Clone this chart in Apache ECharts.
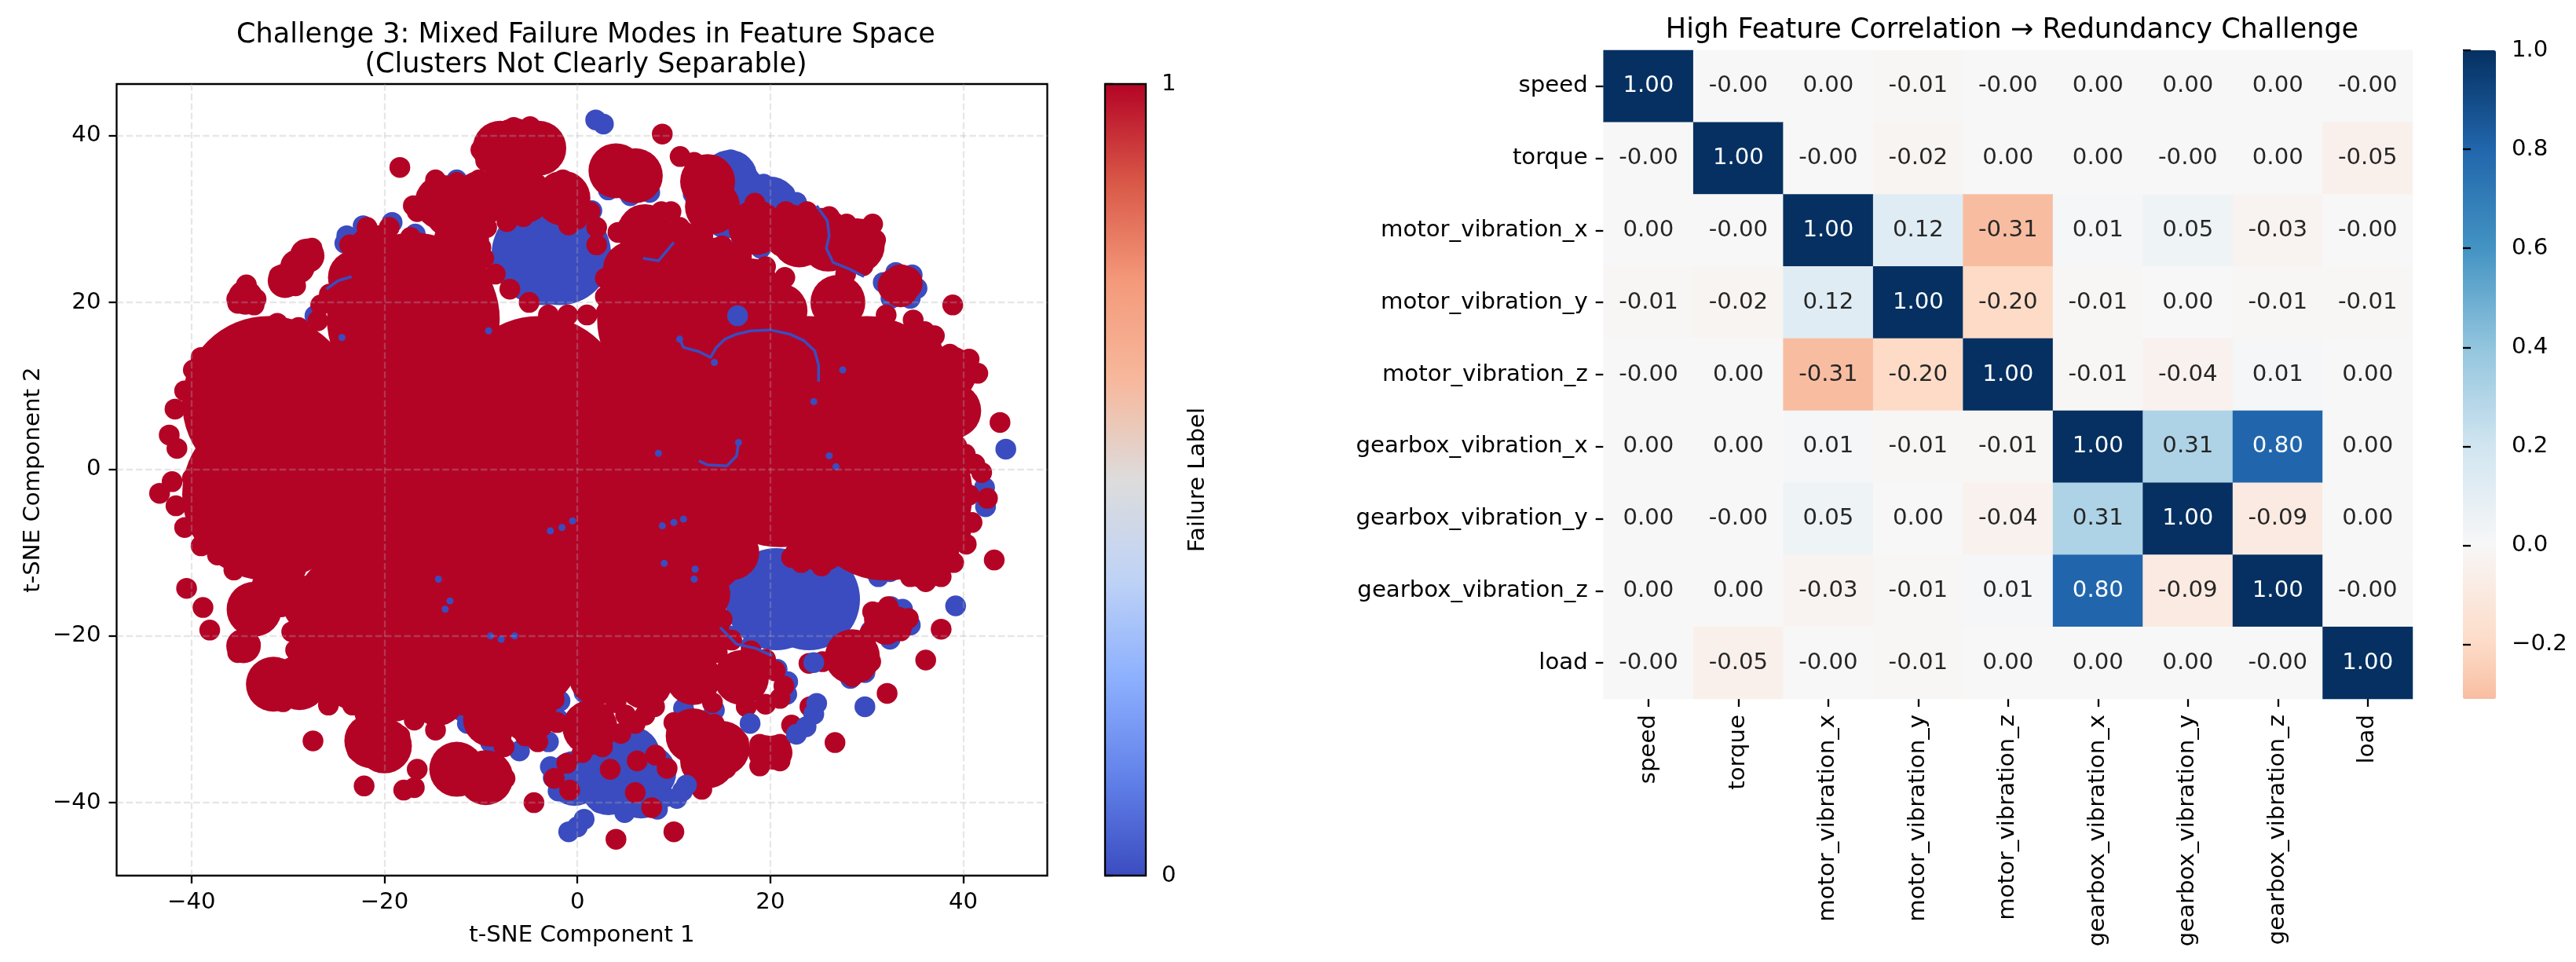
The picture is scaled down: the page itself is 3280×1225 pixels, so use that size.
<!DOCTYPE html>
<html><head><meta charset="utf-8">
<style>html,body{margin:0;padding:0;background:#fff}#c{width:3280px;height:1225px}</style>
<script src="https://cdn.jsdelivr.net/npm/echarts@6/dist/echarts.min.js"></script>
</head><body><div id="c"></div>
<script>
// t-SNE points, by failure label
const blueBroad = [[-3.6,25.8],[-1.8,25.8],[20.6,-15.6],[24,-15.6]];
const blueMid = [[2.7,-34.9],[5.7,-34.2],[-0.3,-37.1],[3.2,-38.2],[6.6,-38.6],[7.4,-36.4],[3,-36],[15.8,35],[16.5,33.5],[20,31.8],[21.8,29.8],[15.5,31]];
const bluePoints = [[1.9,41.9],[2.7,41.4],[3.2,33.5],[2.7,34.5],[3.5,36.8],[5.5,32.8],[7.5,33.2],
 [15.9,37.1],[16.5,36],[17.2,34.9],[19.3,34.2],[21.5,33],[22.7,32],[12,33],[13,31],[15,29.3],[17,27.7],[19,26.5],[23,31],[21.5,29],
 [-24.1,27.1],[-23.9,28],[-22.2,29.2],[-19.2,29.6],[-16.8,28.2],[-15.3,32.2],[-12.5,34.7],[-5,33.9],[-27.2,18.4],[-0.5,33],[1.5,31],
 [-12.3,-26],[-12,-29],[-11.4,-30.5],[-9,-32.8],[-6,-33.8],[-3,-32.7],[-2,-30],[-1.8,-27.8],[0.7,-26.8],[2,-27],
 [8.3,-40.8],[7.4,-40.5],[4.9,-41.2],[2.3,-40],[9.1,-39.3],[-2.8,-35.7],[-2,-38.6],[-2.5,-37],
 [14.2,-28.9],[21.8,-25.5],[21.7,-27],[20.7,-24],[18,-21.2],[15.8,-20],[11,-28.7],
 [33.7,-16.8],[34.5,-18.7],[32.4,-20.4],[30.4,-19.4],[32.5,-16.5],
 [28.3,-25.1],[29.8,-24.4],[27.1,-23.6],[23.2,-8],[24.5,-7],[31.2,-12.9],[32.4,-12.3],[42.2,-2.2],[42.3,-4.5],
 [31.7,22.4],[33,23.6],[34.7,23.3],[35.2,21.7],[34.5,20.5],[32.5,20.5],
 [26.1,-0.9],[14.2,-2.5],[44.4,2.4],[39.2,-16.4],[29.8,-28.5]];
const blueOver = [[0,-42.9],[0.7,-42],[-0.9,-43.5],[10.9,-38.6],[11.3,-37.9],[10.3,-39.5],[24.8,-28.1],[24.5,-29.4],[23.7,-30.9],[22.7,-31.8],[24.5,-23.2],[17.9,-30.5],[16.6,18.4]];
const blueFlecks = [[10.6,15.6],[14.2,12.8],[16.7,3.2],[8.4,1.9],[24.5,8.1],[27.5,11.9],[26.1,1.6],[26.8,0.3],[10,-6.4],[11,-6],[8.8,-6.8],[9,-11.3],[12.1,-13.2],[12.2,-12],[-2.8,-7.4],[-1.6,-7],[-0.5,-6.2],[-13.7,-16.8],[-13.2,-15.8],[-7.9,-20.4],[-6.5,-20],[-9,-20],[-14.4,-13.2],[-24.4,15.8],[-9.2,16.6]];
const blueThreadA = [[10.6,15.6],[11,14.6],[12.6,14.1],[13.8,13.4],[14.4,14.6],[15.3,15.6],[16.5,16.2],[18,16.6],[20,16.7],[22,16.2],[23.5,15.4],[24.6,14.2],[25,12.5],[25,10.5]];
const blueThreadB = [[24.8,31.6],[25.9,29.8],[26.1,28],[25.8,26.5],[26.5,24.8],[28.2,24],[29.7,23.1]];
const blueThreadC = [[12.6,1],[13.5,0.5],[15.5,0.4],[16.5,1.6],[16.7,3.2]];
const blueThreadD = [[6.8,25.3],[8.4,25],[10,27.2]];
const blueThreadE = [[-26,21.6],[-24.8,22.6],[-23.4,23.1]];
const blueThreadF = [[14.8,-19],[16.5,-21],[18.5,-21.5],[20.2,-22.4]];

const redBroad = [[-32,8],[-18,8],[-4,8],[10,8],[24,8],[30,8],[-32,-3],[-18,-6],[-4,-6],[10,-6],[32,-3],[21,1],[-21,-19],[-8,-20],[6,-17],[-17,18],[11,18]];
const redMid = [[-37,5.5],[-36,10],[-37,-4],[-34,-8],[-30,14],[-23,23],[-21,26],[-12,27.5],[-13,31],[10.5,26.5],[14.5,24.5],[18,22],[21,19],[26,27],[23,27.5],[27,20],[12,-25],[7,-25.5],[2,-25],[17,-25],[36,-11],[37.5,-6],[34,-7],[37,3],[37,9],[-7,-28],[-8,-27],[13,-33],[28.5,-22.5],
 [-6.5,38.8],[-4,38.5],[-8,38.5],[4,35.8],[6,35.2],[13.5,34.5],[14,31.5],[18.5,29],[22,28.5],[25.5,28],[29,26.8],[-31,-14.5],[-33.5,-16.8],[-31.5,-25.8],[-28.8,-25.6],[-27,-20],[-24.5,-25],[-19,-27],[-14.5,-27.5],[-21.3,-32.6],[-20,-33.2],[-12.5,-36],[-9.5,-37],[-9,-30],[-5,-29.5],[1.3,-31],[12,-32],[13.5,-35],[15,-33.5],[25.3,-9],[30.5,-9.5],[39,7],[38.5,11.5],[35,14],[37.5,0],[38,-7],[36.7,-10],[-11,1],[3,1],[17,1.5],[16,-10],[13,-15],[13,-20],
 [-14,32],[-10,32.5],[-5.5,32.8],[-1.5,32.5],[7,28.5],[5.5,24]];
const redFill = [[-34.4,20.6],[-34.6,-21.2],[32.9,22],[34,22.3],[33.5,21.5],[33.5,22.5],[-30.3,22.6],[-29,24.3],[-28,25.6],[19.5,-34],[20.5,-34],[31.5,-18],[33,-18.5],[32,-19]];
const redPoints = [
 [-6.6,41],[-4.9,41.1],[-8.7,40.2],[-3.2,39.5],[-10,38.3],[-8,38],[-5.5,38],[-2.8,37.5],[-7,36.7],[-4.5,36.7],[-6,38.5],[-9.5,37],
 [-18.4,36.2],[8.8,40.2],[10.65,37.5],
 [3,37],[5.3,37],[7.4,35.3],[4,34.2],[6.1,33.5],[2.7,35.7],[5,35.5],
 [13.8,36.4],[12.1,36.8],[12.9,34.6],[15,33.5],[12.5,32.7],[14.6,31.6],[16.4,30.5],[17.6,29],[18.9,30.5],[21,29.8],[23.2,29.8],[25.3,30.1],[27.9,29.4],[30.3,29],[30.8,27.2],[28.7,25.4],[26.6,27.6],[24,26.8],[21.9,27.6],[19.8,28.3],[28.7,27.2],[30.6,29.4],[30.9,27.5],[29.3,26],[27.8,23.4],[29.6,24.4],[26.1,30.3],[23.8,30.9],[21.6,30.9],[18.4,31.9],
 [-34.3,22.1],[-35.2,19.9],[-33.5,19.7],[-34.3,20.2],[-35.3,20.4],[-33.3,20.4],
 [-30.5,22.4],[-29.6,23.9],[-28.8,25.4],[-27.5,26.5],[-29.2,22],[-30.9,23.2],[-27.9,25],
 [-33.4,16.3],[-31.1,17.5],[-28.9,17],[-39,13.4],[-39.8,11.9],[-40.7,9.4],[-41.7,7.2],[-42.3,4.1],[-41.5,2.5],[-34,14.4],[-37,12.3],[-35,13],[-33,14],[-39.5,7],[-39,10],
 [-39.9,-1.1],[-42,-1.5],[-43.3,-2.9],[-41.6,-4.4],[-40.7,-7],[-39,-9.2],[-37.3,-10.3],[-35.6,-12.1],[-34.3,-11],[-32.2,-9.9],[-30.5,-8.5],
 [-31.3,-13.6],[-32.6,-14.3],[-29.2,-12.1],[-34.3,-16.2],[-33.5,-15.4],[-34.7,-17.6],[-30,-14.5],[-28,-14],
 [-34.8,-21.3],[-35.2,-22],[-33.9,-21],[-40.5,-14.3],[-38.8,-16.6],[-38.1,-19.3],
 [-31.8,-24.6],[-29.2,-24.3],[-27.9,-25.4],[-32.2,-26.5],[-30.5,-27.9],[-28.8,-27.2],
 [-29.2,-17.3],[-29.6,-19.5],[-29.2,-21.7],[-27.1,-22.8],[-25.6,-26.5],[-25.8,-28.3],[-23.3,-28.3],[-22,-29.4],[-19.8,-29.4],[-16.9,-30.1],[-14.7,-31.3],[-15,-29],[-25,-24],[-23,-26],
 [-22.4,-31.6],[-19.8,-31.3],[-22.8,-33.8],[-20.7,-34.6],[-18.6,-33.8],[-18.4,-32],
 [-27.4,-32.6],[-22.1,-38],[-18,-38.5],[-16.9,-38.2],[-16.6,-36],
 [-13.5,-34.9],[-12.6,-36],[-11.3,-36.8],[-9.6,-37.9],[-12.2,-37.5],[-10.5,-38.6],[-8.8,-38.6],[-7.5,-37.1],[-13.5,-36],[-4.5,-40],
 [-11.8,-28.3],[-11.3,-24.6],[-10.5,-30.5],[-7.9,-32],[-5.4,-32],[-3.2,-30.1],[-2.4,-27.6],[-7.6,-33.3],[-4.1,-32.7],[-2.1,-30.4],[-11,-26.5],
 [1.3,-30],[4.5,-31.7],[6.2,-35],[3.4,-36],[8.1,-34.3],[9.3,-35.9],[6,-38.8],[7.7,-40.6],[-0.8,-38.5],[2.6,-33.3],[0.5,-34],[-1.1,-35.3],[-2.4,-37.1],[-0.3,-31.6],[2.3,-31.6],[2.7,-29.4],
 [4,-44.4],[10,-43.5],
 [10,-30.4],[11.9,-30.4],[14.2,-30.6],[15.8,-32],[16.7,-32.7],[10.6,-32.7],[12.6,-33.3],[14.5,-33.6],[16.1,-34.6],[12.6,-35.6],[14.5,-36.6],[15.4,-35.9],[11.6,-34.3],[12.9,-38.4],
 [18.9,-33],[21,-33],[18.9,-35.6],[21,-35],[22.2,-30.7],[24.1,-28.5],[26.7,-32.8],[32.1,-26.9],[36.1,-22.9],[37.7,-19.2],[43.2,-10.9],
 [27.4,-21.7],[29.3,-22],[27.7,-24],[29.6,-24.2],[28.5,-24.9],[30.4,-23.1],[24,-23.3],[25.4,-23.1],
 [32.2,-16.5],[34.3,-17.9],[30.9,-17.7],[30.3,-19.7],[32.2,-19.7],[33.5,-19.4],[32.4,-18.4],[30.6,-17.1],
 [22.6,-10],[25.5,-8.3],[26.8,-8.7],[25.3,-11.6],[27.1,-10],[24.1,-9],[23.2,-11.2],[22.2,-10.6],[29.6,-11.2],[31.2,-10.3],[32.2,-11.2],[30.9,-9.3],[28,-7],
 [36.1,-13.5],[34.5,-12.9],[37.7,-12.9],[39,-11.2],[40.3,-9],[40.9,-6.4],[42.5,-3.5],[40.6,-3.1],[40,-2.9],
 [41.5,11.5],[40.6,13.2],[40,8.5],[39,4.4],[38.6,13.8],[37,16],[34.8,17.9],[39.6,1.6],[41.2,0.6],[39.3,2.8],[41.9,-0.4],[40.2,1.8],[36,16.5],[32,18.5],[40,11],
 [43.8,5.6],[38.9,19.7],
 [10.6,29],[13,28],[15,26.8],[17,25.5],[19.5,24.3],[21.5,23],[25.1,25.3],[23.2,27.8],
 [8.7,30.9],[8.7,27.8],[6.8,28.4],[9.7,30.9],[8.1,26.6],[5.2,29],[4.2,28.4],[4.6,25.3],[3.6,23.4],[2,26.9],[0,30],[-0.6,32.8],[1.3,30.9],[2,29],[2.9,22.9],[2.9,20.7],
 [-14.7,34.7],[-12.5,34.4],[-10.2,34.7],[-7.6,34.7],[-6,34],[-4.1,33.8],[-1.5,34.7],[-15.3,32.8],[-16.6,30.9],[-7.3,29.7],[-5.6,30.3],[-0.9,29.3],[-2.8,32.2],[-9,32],[-7,32],[-4.5,31.5],
 [-9.4,29],[-10,26.6],[-9.7,25.3],[-8.5,23.4],[-7,21.6],[-5,20],[-3,18.5],[-1,18.5],[1,18.5],[3,18.8],[4.5,20],[4.6,22.5],[-10,23],
 [-23.6,26.9],[-21.8,29],[-19.5,29],[-17.3,27.8],[-17,31.6],[-24.7,22.8],[-25.7,21],[-26.6,19.7],[-26.9,17.8],
 [16,-20.5],[18,-21.8],[19.5,-22.8],[20.5,-24.2],[21.4,-26],[21,-27.5],[19.5,-28.2],[17.5,-28.5],[14,-28],[8,-28.5],[5,-29.5],[7,-29.5],[6,-30.5],[15,-18],[14.5,-22],[4,-28]
];
const xTicks = [-40,-20,0,20,40];
const yTicks = [-40,-20,0,20,40];
const labelTicks = [0,1];
const coolwarm = ['#3b4cc0','#6282ea','#8db0fe','#bfd3f6','#dddcdc','#f7b89c','#f49a7b','#d95847','#b40426'];

// correlation matrix
const features = ['speed','torque','motor_vibration_x','motor_vibration_y','motor_vibration_z','gearbox_vibration_x','gearbox_vibration_y','gearbox_vibration_z','load'];
const corr = [
 [1,-0.002,0.002,-0.01,-0.002,0.002,0.002,0.002,-0.002],
 [-0.002,1,-0.002,-0.02,0.002,0.002,-0.002,0.002,-0.05],
 [0.002,-0.002,1,0.12,-0.31,0.01,0.05,-0.03,-0.002],
 [-0.01,-0.02,0.12,1,-0.2,-0.01,0.002,-0.01,-0.01],
 [-0.002,0.002,-0.31,-0.2,1,-0.01,-0.04,0.01,0.002],
 [0.002,0.002,0.01,-0.01,-0.01,1,0.31,0.8,0.002],
 [0.002,-0.002,0.05,0.002,-0.04,0.31,1,-0.09,0.002],
 [0.002,0.002,-0.03,-0.01,0.01,0.8,-0.09,1,-0.002],
 [-0.002,-0.05,-0.002,-0.01,0.002,0.002,0.002,-0.002,1]
];
const corrTicks = [-0.2,0,0.2,0.4,0.6,0.8,1];
const corrMin = -0.31, corrMax = 1;
const rdbuStops = [[-0.4,'#f4a582'],[-0.2,'#fddbc7'],[0,'#f7f7f7'],[0.2,'#d1e5f0'],[0.4,'#92c5de'],[0.6,'#4393c3'],[0.8,'#2166ac'],[1,'#053061']];

function hex(c){return [1,3,5].map(i=>parseInt(c.substr(i,2),16));}
function rdbu(v){
  for(let i=0;i<rdbuStops.length-1;i++){
    const [a,ca]=rdbuStops[i],[b,cb]=rdbuStops[i+1];
    if(v<=b){const t=(v-a)/(b-a),p=hex(ca),q=hex(cb);
      return 'rgb('+p.map((u,k)=>Math.round(u+(q[k]-u)*t)).join(',')+')';}
  }
  return rdbuStops[rdbuStops.length-1][1];
}
const corrRamp=[];for(let i=0;i<=131;i++)corrRamp.push(rdbu(corrMin+(corrMax-corrMin)*i/131));
const minus=v=>v<0?'\u2212'+Math.abs(v):String(v);
const minusF=v=>v<0?'\u2212'+Math.abs(v).toFixed(1):v.toFixed(1);

const FONT='DejaVu Sans', FS=29.2, TFS=35, LW=2.3, TL=10;
const tick={show:true,length:TL,lineStyle:{color:'#000',width:LW}};
const txt={fontFamily:FONT,fontSize:FS,color:'#000'};
const gridLine={show:true,lineStyle:{color:'rgba(176,176,176,0.3)',width:LW,type:[8.5,3.7]}};

const withLabel=(arr,l)=>arr.map(p=>[p[0],p[1],l]);
const sc=(name,arr,l,size)=>({type:'scatter',name,xAxisIndex:0,yAxisIndex:0,data:withLabel(arr,l),symbol:'circle',symbolSize:size,silent:true,animation:false,itemStyle:{opacity:1}});
const thread=(arr)=>({type:'line',xAxisIndex:0,yAxisIndex:0,data:arr,showSymbol:false,symbol:'none',silent:true,animation:false,z:3,lineStyle:{color:'#3b4cc0',width:3.5}});

const heat=[];
corr.forEach((row,r)=>row.forEach((v,c)=>heat.push({value:[c,r,v],label:{color:Math.abs(v)>=0.5?'#fff':'#262626'}})));

const option={
 backgroundColor:'#fff',animation:false,
 title:[
  {text:'Challenge 3: Mixed Failure Modes in Feature Space\n(Clusters Not Clearly Separable)',left:741,top:21,textAlign:'center',textStyle:{fontFamily:FONT,fontSize:TFS,fontWeight:'normal',color:'#000',lineHeight:38}},
  {text:'High Feature Correlation \u2192 Redundancy Challenge',left:2557,top:16,textAlign:'center',textStyle:{fontFamily:FONT,fontSize:TFS,fontWeight:'normal',color:'#000'}}
 ],
 grid:[
  {left:148.5,top:107,width:1185,height:1008,show:true,borderColor:'#000',borderWidth:LW,backgroundColor:'#fff',containLabel:false},
  {left:1407,top:107,width:52,height:1008,show:true,borderColor:'#000',borderWidth:LW,backgroundColor:'transparent',z:6},
  {left:2041.7,top:64,width:1030.3,height:826,show:false},
  {left:3136,top:64,width:42,height:826,show:false,z:6}
 ],
 xAxis:[
  {type:'value',gridIndex:0,min:-47.75,max:48.7,z:5,axisLine:{show:false,onZero:false},axisTick:Object.assign({customValues:xTicks},tick),splitLine:gridLine,
   axisLabel:Object.assign({customValues:xTicks,formatter:minus,margin:20},txt),name:'t-SNE Component 1',nameLocation:'middle',nameGap:62,nameTextStyle:txt},
  {type:'value',gridIndex:1,show:false,min:0,max:1},
  {type:'category',gridIndex:2,data:features,position:'bottom',axisLine:{show:false},axisTick:Object.assign({alignWithLabel:true},tick),splitLine:{show:false},splitArea:{show:false},
   axisLabel:Object.assign({rotate:90,margin:20,interval:0},txt)},
  {type:'value',gridIndex:3,show:false,min:0,max:1}
 ],
 yAxis:[
  {type:'value',gridIndex:0,min:-48.76,max:46.2,z:5,axisLine:{show:false,onZero:false},axisTick:Object.assign({customValues:yTicks},tick),splitLine:gridLine,
   axisLabel:Object.assign({customValues:yTicks,formatter:minus,margin:20},txt),name:'t-SNE Component 2',nameLocation:'middle',nameGap:92,nameTextStyle:txt},
  {type:'value',gridIndex:1,position:'right',min:0,max:1,z:6,axisLine:{show:false},axisTick:Object.assign({customValues:labelTicks},tick),splitLine:{show:false},
   axisLabel:Object.assign({customValues:labelTicks,margin:20},txt),name:'Failure Label',nameLocation:'middle',nameGap:52,nameRotate:90,nameTextStyle:txt},
  {type:'category',gridIndex:2,data:features,inverse:true,axisLine:{show:false},axisTick:Object.assign({alignWithLabel:true},tick),splitLine:{show:false},splitArea:{show:false},
   axisLabel:Object.assign({margin:20,interval:0},txt)},
  {type:'value',gridIndex:3,position:'right',min:corrMin,max:corrMax,z:6,axisLine:{show:false},axisTick:Object.assign({customValues:corrTicks},tick),splitLine:{show:false},
   axisLabel:Object.assign({customValues:corrTicks,formatter:minusF,margin:20},txt)}
 ],
 visualMap:[
  {type:'continuous',seriesIndex:[0,1,2,3,4,5,6,7,8],dimension:2,min:0,max:1,left:1407,top:107,itemWidth:52,itemHeight:1008,padding:0,text:null,calculable:false,hoverLink:false,inRange:{color:coolwarm},show:true},
  {type:'continuous',seriesIndex:9,dimension:2,min:corrMin,max:corrMax,left:3136,top:64,itemWidth:42,itemHeight:826,padding:0,text:null,calculable:false,hoverLink:false,inRange:{color:corrRamp},show:true}
 ],
 series:[
  sc('label 0 broad',blueBroad,0,130),
  sc('label 0 mid',blueMid,0,70),
  sc('label 0',bluePoints,0,26.5),
  sc('label 1 broad',redBroad,1,220),
  sc('label 1 mid',redMid,1,70),
  sc('label 1 fill',redFill,1,44),
  sc('label 1',redPoints,1,26.5),
  sc('label 0 over',blueOver,0,26.5),
  sc('label 0 flecks',blueFlecks,0,9),
  {type:'heatmap',xAxisIndex:2,yAxisIndex:2,data:heat,silent:true,animation:false,
   label:{show:true,fontFamily:FONT,fontSize:FS,formatter:p=>p.value[2].toFixed(2)},emphasis:{disabled:true}},
  thread(blueThreadA),thread(blueThreadB),thread(blueThreadC),thread(blueThreadD),thread(blueThreadE),thread(blueThreadF)
 ]
};
const chart=echarts.init(document.getElementById('c'),null,{renderer:'canvas',width:3280,height:1225});
chart.setOption(option);
</script></body></html>
